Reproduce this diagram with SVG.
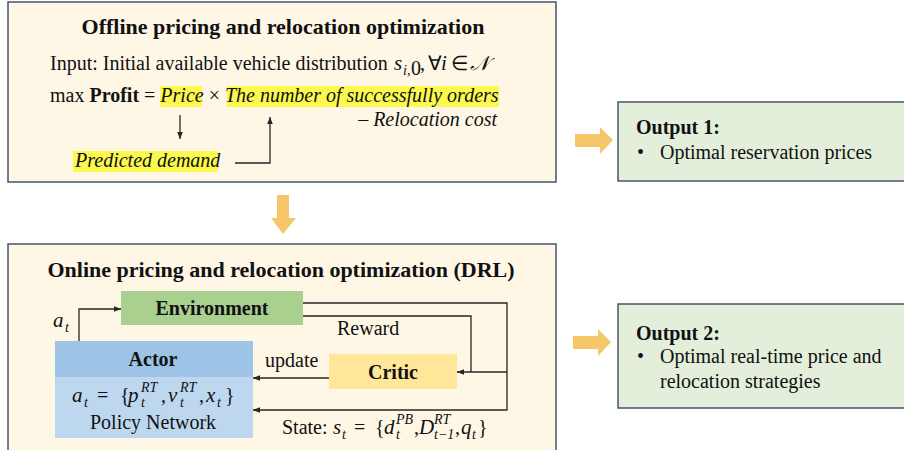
<svg xmlns="http://www.w3.org/2000/svg" width="904" height="450" viewBox="0 0 904 450">
  <style>
    .panel { fill: #fef7e6; stroke: #4a5568; stroke-width: 1.5; }
    .outbox { fill: #e3efda; stroke: #4a5568; stroke-width: 1.5; }
    text { font-family: "Liberation Serif", "Times New Roman", serif; font-size: 20px; fill: #111; }
    .b { font-weight: bold; }
    .i { font-style: italic; }
    .title { font-size: 22px; font-weight: bold; }
    .math { font-size: 21px; font-style: italic; }
    .sub { font-size: 14px; font-style: italic; }
    .hl { fill: #fbf84e; }
    .line { fill: none; stroke: #262626; stroke-width: 1.3; }
    .fat { fill: #f5c66a; }
  </style>
  <defs>
    <marker id="tip" viewBox="0 0 10 10" refX="10" refY="5" markerWidth="7" markerHeight="7" markerUnits="userSpaceOnUse" orient="auto">
      <path d="M0,1 L10,5 L0,9 z" fill="#262626"/>
    </marker>
  </defs>

  <rect width="904" height="450" fill="#ffffff"/>

  <!-- Offline stage panel -->
  <g id="offline">
    <rect class="panel" x="8" y="2" width="548" height="180"/>
    <text class="title" x="283" y="34" text-anchor="middle">Offline pricing and relocation optimization</text>
    <text x="50" y="70">Input: Initial available vehicle distribution</text>
    <!-- s_{i,0}, ∀i ∈ N -->
    <text class="math" x="394" y="70">s</text>
    <text class="sub" x="403" y="75">i,</text>
    <text font-size="13" x="411" y="75">0</text>
    <text x="420" y="70">,</text>
    <text x="428" y="70">∀</text>
    <text class="math" x="441" y="70">i</text>
    <text x="451" y="70">∈</text>
    <text font-family="DejaVu Serif, serif" font-style="italic" font-size="18" x="470" y="70">𝒩</text>
    <rect class="hl" x="160" y="86" width="42" height="21"/>
    <rect class="hl" x="227" y="86" width="272" height="21"/>
    <text x="50" y="102">max <tspan class="b">Profit</tspan> = <tspan class="i">Price</tspan> × <tspan class="i">The number of successfully orders</tspan></text>
    <text class="i" x="497" y="126" text-anchor="end">– Relocation cost</text>
    <rect class="hl" x="73" y="151" width="145" height="21"/>
    <text class="i" x="75" y="167">Predicted demand</text>
    <path class="line" d="M180,115 V139" marker-end="url(#tip)"/>
    <path class="line" d="M235,163 H270 V117" marker-end="url(#tip)"/>
  </g>

  <!-- Online DRL stage panel -->
  <g id="online">
    <rect class="panel" x="8" y="244" width="548" height="210"/>
    <text class="title" x="281" y="277" text-anchor="middle">Online pricing and relocation optimization (DRL)</text>
  </g>

  <g id="environment">
    <rect x="121" y="291" width="182" height="34" fill="#a9d08e"/>
    <text class="b" x="212" y="315" text-anchor="middle">Environment</text>
  </g>

  <g id="actor">
    <rect x="55" y="341" width="198" height="36" fill="#9dc3e6"/>
    <rect x="55" y="377" width="198" height="61" fill="#bdd7ee"/>
    <text class="b" x="153" y="366" text-anchor="middle">Actor</text>
    <!-- a_t = {p_t^RT, v_t^RT, x_t} -->
    <text class="math" x="72" y="402">a</text>
    <text class="sub" x="84" y="407">t</text>
    <text x="97" y="402">=</text>
    <text x="120" y="402">{</text>
    <text class="math" x="128" y="402">p</text>
    <text class="sub" x="141" y="407">t</text>
    <text class="sub" x="141" y="392">RT</text>
    <text x="161" y="402">,</text>
    <text class="math" x="168" y="402">v</text>
    <text class="sub" x="180" y="407">t</text>
    <text class="sub" x="180" y="392">RT</text>
    <text x="199" y="402">,</text>
    <text class="math" x="206" y="402">x</text>
    <text class="sub" x="217" y="407">t</text>
    <text x="225" y="402">}</text>
    <text x="153" y="429" text-anchor="middle">Policy Network</text>
  </g>

  <g id="critic">
    <rect x="329" y="354" width="128" height="35" fill="#ffe699"/>
    <text class="b" x="393" y="379" text-anchor="middle">Critic</text>
  </g>

  <!-- Outputs -->
  <g id="output1">
    <rect class="outbox" x="618" y="102" width="290" height="79"/>
    <text class="b" x="636" y="134">Output 1:</text>
    <text x="637" y="159">•</text>
    <text x="660" y="159">Optimal reservation prices</text>
  </g>

  <g id="output2">
    <rect class="outbox" x="618" y="304" width="290" height="104"/>
    <text class="b" x="636" y="340">Output 2:</text>
    <text x="637" y="363">•</text>
    <text x="660" y="363">Optimal real-time price and</text>
    <text x="660" y="388">relocation strategies</text>
  </g>

  <!-- Connectors -->
  <g id="connectors">
    <path class="line" d="M79,341 V309 H121" marker-end="url(#tip)"/>
    <path class="line" d="M303,303 H507 V410 H253" marker-end="url(#tip)"/>
    <path class="line" d="M303,316 H471 V372"/>
    <path class="line" d="M507,372 H457" marker-end="url(#tip)"/>
    <path class="line" d="M329,378 H253" marker-end="url(#tip)"/>
    <text class="math" x="53" y="327">a</text>
    <text class="sub" x="65" y="332">t</text>
    <text x="337" y="335">Reward</text>
    <text x="265" y="367">update</text>
    <!-- State: s_t = {d_t^PB, D_{t-1}^RT, q_t} -->
    <text x="282" y="434">State:</text>
    <text class="math" x="333" y="434">s</text>
    <text class="sub" x="342" y="439">t</text>
    <text x="354" y="434">=</text>
    <text x="375" y="434">{</text>
    <text class="math" x="384" y="434">d</text>
    <text class="sub" x="396" y="439">t</text>
    <text class="sub" x="396" y="424">PB</text>
    <text x="414" y="434">,</text>
    <text class="math" x="419" y="434">D</text>
    <text class="sub" x="434" y="439">t−1</text>
    <text class="sub" x="434" y="424">RT</text>
    <text x="455" y="434">,</text>
    <text class="math" x="461" y="434">q</text>
    <text class="sub" x="472" y="439">t</text>
    <text x="478" y="434">}</text>
    <!-- block arrows between stages -->
    <path class="fat" d="M277,195 H289 V218 H296 L283,234 L271,218 H277 Z"/>
    <path class="fat" d="M575,134 H600 V127 L613,140 L600,154 V147 H575 Z"/>
    <path class="fat" d="M573,336 H598 V329 L611,342 L598,356 V349 H573 Z"/>
  </g>
</svg>
